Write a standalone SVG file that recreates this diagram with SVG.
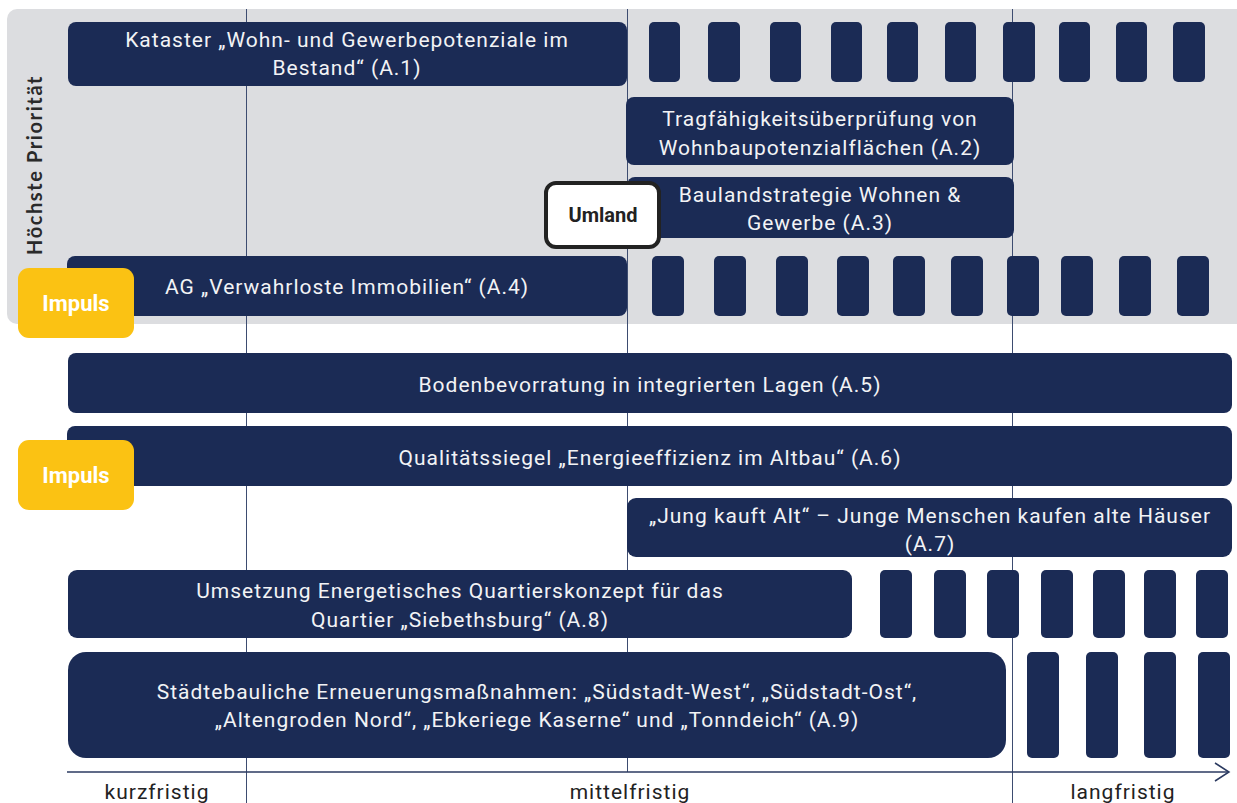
<svg xmlns="http://www.w3.org/2000/svg" width="1237" height="803" viewBox="0 0 1237 803">
<defs>
<style>
.bar{fill:#1b2b55;}
.t{font-family:Roboto,"Liberation Sans",sans-serif;font-size:21px;letter-spacing:1px;fill:#f2f3f5;text-anchor:middle;}
.ax{font-family:Roboto,"Liberation Sans",sans-serif;font-size:21px;letter-spacing:1px;fill:#222;text-anchor:middle;}
.grid{stroke:#3d4c70;stroke-width:1;}
.imp{fill:#fbc213;}
.impt{font-family:Roboto,"Liberation Sans",sans-serif;font-size:22px;font-weight:bold;fill:#fff;text-anchor:middle;}
</style>
</defs>
<rect x="7" y="9" width="1240" height="315" rx="10" fill="#dcdde0"/>
<g id="gridlines">
<line class="grid" x1="246.5" y1="9" x2="246.5" y2="803"/>
<line class="grid" x1="627.5" y1="9" x2="627.5" y2="772"/>
<line class="grid" x1="1012.5" y1="9" x2="1012.5" y2="803"/>
</g>
<text x="42" y="165" transform="rotate(-90 42 165)" font-family="Lato,'Open Sans',sans-serif" font-size="20" font-weight="bold" fill="#2a2a2a" text-anchor="middle" letter-spacing="1.6">Höchste Priorität</text>
<g id="A1">
<rect class="bar" x="68" y="22" width="559" height="64" rx="8"/>
<text class="t" x="347" y="47">Kataster „Wohn- und Gewerbepotenziale im</text>
<text class="t" x="347" y="75">Bestand“ (A.1)</text>
<g class="bar">
<rect x="649" y="22" width="31" height="60" rx="5"/><rect x="708" y="22" width="32" height="60" rx="5"/><rect x="770" y="22" width="31" height="60" rx="5"/><rect x="831" y="22" width="31" height="60" rx="5"/><rect x="887" y="22" width="31" height="60" rx="5"/><rect x="945" y="22" width="31" height="60" rx="5"/><rect x="1003" y="22" width="32" height="60" rx="5"/><rect x="1059" y="22" width="31" height="60" rx="5"/><rect x="1116" y="22" width="31" height="60" rx="5"/><rect x="1173" y="22" width="32" height="60" rx="5"/>
</g>
</g>
<g id="A2">
<rect class="bar" x="626" y="97" width="388" height="68" rx="8"/>
<text class="t" x="820" y="126">Tragfähigkeitsüberprüfung von</text>
<text class="t" x="820" y="155">Wohnbaupotenzialflächen (A.2)</text>
</g>
<g id="A3">
<rect class="bar" x="627" y="177" width="387" height="61" rx="8"/>
<text class="t" x="820" y="202">Baulandstrategie Wohnen &amp;</text>
<text class="t" x="820" y="230">Gewerbe (A.3)</text>
</g>
<g id="Umland">
<rect x="546" y="183" width="113" height="64" rx="10" fill="#fff" stroke="#222" stroke-width="4"/>
<text x="603" y="222" font-family="Roboto,'Liberation Sans',sans-serif" font-size="20" font-weight="bold" fill="#222" text-anchor="middle">Umland</text>
</g>
<g id="A4">
<rect class="bar" x="67" y="256" width="560" height="60" rx="8"/>
<text class="t" x="347" y="294">AG „Verwahrloste Immobilien“ (A.4)</text>
<g class="bar">
<rect x="652" y="256" width="32" height="60" rx="5"/><rect x="714" y="256" width="32" height="60" rx="5"/><rect x="776" y="256" width="32" height="60" rx="5"/><rect x="837" y="256" width="32" height="60" rx="5"/><rect x="893" y="256" width="32" height="60" rx="5"/><rect x="951" y="256" width="32" height="60" rx="5"/><rect x="1007" y="256" width="32" height="60" rx="5"/><rect x="1061" y="256" width="32" height="60" rx="5"/><rect x="1119" y="256" width="32" height="60" rx="5"/><rect x="1177" y="256" width="32" height="60" rx="5"/>
</g>
</g>
<g id="Impuls1">
<rect class="imp" x="18" y="268" width="116" height="70" rx="11"/>
<text class="impt" x="76" y="311">Impuls</text>
</g>
<g id="A5">
<rect class="bar" x="68" y="353" width="1164" height="60" rx="8"/>
<text class="t" x="650" y="392">Bodenbevorratung in integrierten Lagen (A.5)</text>
</g>
<g id="A6">
<rect class="bar" x="67" y="426" width="1165" height="60" rx="8"/>
<text class="t" x="650" y="465">Qualitätssiegel „Energieeffizienz im Altbau“ (A.6)</text>
</g>
<g id="Impuls2">
<rect class="imp" x="18" y="440" width="116" height="70" rx="11"/>
<text class="impt" x="76" y="483">Impuls</text>
</g>
<g id="A7">
<rect class="bar" x="627" y="498" width="605" height="59" rx="9"/>
<text class="t" x="930" y="523">„Jung kauft Alt“ – Junge Menschen kaufen alte Häuser</text>
<text class="t" x="930" y="551">(A.7)</text>
</g>
<g id="A8">
<rect class="bar" x="68" y="570" width="784" height="68" rx="9"/>
<text class="t" x="460" y="598">Umsetzung Energetisches Quartierskonzept für das</text>
<text class="t" x="460" y="627">Quartier „Siebethsburg“ (A.8)</text>
<g class="bar">
<rect x="880" y="570" width="32" height="68" rx="5"/><rect x="934" y="570" width="32" height="68" rx="5"/><rect x="987" y="570" width="32" height="68" rx="5"/><rect x="1041" y="570" width="32" height="68" rx="5"/><rect x="1093" y="570" width="32" height="68" rx="5"/><rect x="1144" y="570" width="32" height="68" rx="5"/><rect x="1196" y="570" width="32" height="68" rx="5"/>
</g>
</g>
<g id="A9">
<rect class="bar" x="68" y="652" width="938" height="106" rx="18"/>
<text class="t" x="537" y="699">Städtebauliche Erneuerungsmaßnahmen: „Südstadt-West“, „Südstadt-Ost“,</text>
<text class="t" x="537" y="727">„Altengroden Nord“, „Ebkeriege Kaserne“ und „Tonndeich“ (A.9)</text>
<g class="bar">
<rect x="1027" y="652" width="32" height="106" rx="5"/><rect x="1086" y="652" width="32" height="106" rx="5"/><rect x="1144" y="652" width="32" height="106" rx="5"/><rect x="1198" y="652" width="32" height="106" rx="5"/>
</g>
</g>
<g id="connectors">
<line x1="67" y1="772" x2="1229" y2="772" stroke="#2b3a60" stroke-width="1.5"/>
<polyline points="1215,763 1229,772 1215,781" fill="none" stroke="#2b3a60" stroke-width="1.5"/>
</g>
<g id="axis-labels">
<text class="ax" x="157" y="799">kurzfristig</text>
<text class="ax" x="630" y="799">mittelfristig</text>
<text class="ax" x="1123" y="799">langfristig</text>
</g>
</svg>
